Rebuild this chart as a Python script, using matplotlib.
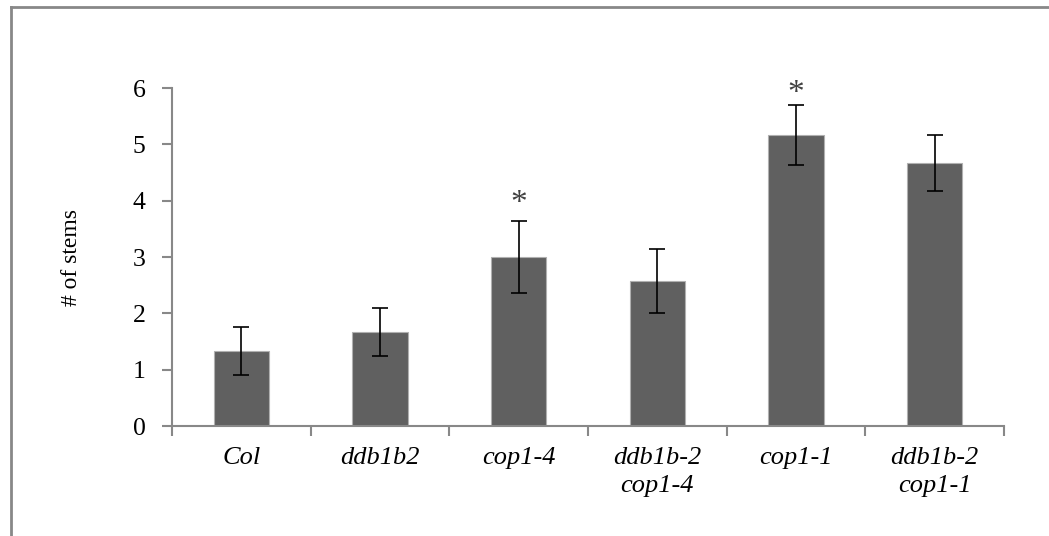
import matplotlib
matplotlib.use("Agg")
import matplotlib.pyplot as plt
from matplotlib.lines import Line2D
import numpy as np

categories = ["Col", "ddb1b2", "cop1-4", "ddb1b-2\ncop1-4", "cop1-1", "ddb1b-2\ncop1-1"]
means = [1.33, 1.67, 3.00, 2.58, 5.17, 4.67]
errors = [0.42, 0.42, 0.64, 0.57, 0.53, 0.50]
significant = [False, False, True, False, True, False]
star_y = [None, None, 3.95, None, 5.90, None]
yticks = [0, 1, 2, 3, 4, 5, 6]

plt.rcParams['font.family'] = ['Liberation Serif', 'DejaVu Serif']

fig = plt.figure(figsize=(10.49, 5.36), dpi=100)
ax = fig.add_axes([0.164, 0.2052, 0.793, 0.6306])

x = np.arange(len(categories))
ax.bar(x, means, width=0.4, color="#606060", edgecolor="#b0b0b0", linewidth=0.8, zorder=2)
ax.errorbar(x, means, yerr=errors, fmt="none", ecolor="black", elinewidth=1.2,
            capsize=6, capthick=1.2, zorder=3)

for xi, sig, sy in zip(x, significant, star_y):
    if sig:
        ax.text(xi, sy, "*", ha="center", va="center", fontsize=24, color="#404040")

ax.set_xlim(-0.5, len(categories) - 0.5)
ax.set_ylim(0, 6)
ax.set_yticks(yticks)
ax.set_yticklabels([str(t) for t in yticks], fontsize=18.5)
ax.set_xticks(x)
ax.set_xticklabels(categories, fontsize=19, style="italic", linespacing=1.38)
ax.tick_params(axis="x", length=0, pad=15)
ax.set_xticks(np.arange(len(categories) + 1) - 0.5, minor=True)
ax.tick_params(axis="x", which="minor", length=7, width=1.5, color="#888888")
ax.tick_params(axis="y", length=7, width=1.5, color="#888888", pad=12)

for s in ["top", "right"]:
    ax.spines[s].set_visible(False)
for s in ["left", "bottom"]:
    ax.spines[s].set_color("#888888")
    ax.spines[s].set_linewidth(1.5)

ax.set_ylabel("# of stems", fontsize=17)
ax.yaxis.set_label_coords(-0.108, 0.5)

# figure border (left and top only visible)
fig.add_artist(Line2D([10.5 / 1049, 10.5 / 1049], [0, 1 - 6.5 / 536], transform=fig.transFigure,
                      color="#888888", linewidth=2))
fig.add_artist(Line2D([10.5 / 1049, 1], [1 - 6.5 / 536, 1 - 6.5 / 536], transform=fig.transFigure,
                      color="#888888", linewidth=2))

fig.savefig("out.png", dpi=100)
